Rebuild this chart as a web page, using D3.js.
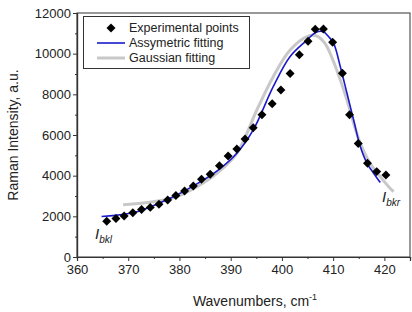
<!DOCTYPE html>
<meta charset="utf-8">
<style>
body { margin: 0; background: #fff; }
text { font-family: "Liberation Sans", Arial, sans-serif; fill: #222; }
</style>
<svg width="412" height="312"></svg>
<script src="https://d3js.org/d3.v7.min.js"></script>
<script>

// experimental points (wavenumber, intensity)
var expX = [365.8, 367.6, 369.2, 370.9, 372.6, 374.3, 376.0, 377.7, 379.3, 381.0, 382.7, 384.3, 386.0, 387.8, 389.5, 391.2, 392.8, 394.4, 396.1, 398.1, 399.8, 401.6, 403.4, 405.1, 406.5, 408.1, 409.9, 411.8, 413.2, 414.9, 416.7, 418.5, 420.3];
var expY = [1760, 1890, 2020, 2180, 2340, 2440, 2590, 2800, 3020, 3250, 3490, 3820, 4070, 4490, 4970, 5310, 5800, 6360, 7000, 7540, 8210, 9020, 9950, 10610, 11200, 11210, 10560, 9040, 7000, 5580, 4610, 4200, 4030];

// asymmetric fit
var asymX = [364.8, 371.7, 378.2, 384.7, 388.0, 391.2, 394.4, 398.3, 401.6, 404.9, 406.5, 408.1, 409.1, 410.1, 411.4, 412.7, 414.0, 415.3, 416.6, 417.9, 419.2];
var asymY = [1990, 2230, 2890, 3790, 4360, 5100, 6250, 8380, 9860, 10670, 11030, 11080, 10840, 10510, 9360, 8050, 6740, 5430, 4610, 4120, 3660];

// gaussian fit
var gaussX = [369.0, 374.9, 379.5, 383.4, 387.3, 391.2, 395.1, 398.3, 401.6, 404.9, 406.8, 408.4, 409.4, 411.4, 412.7, 414.0, 415.3, 417.2, 419.2, 421.1, 421.8];
var gaussY = [2570, 2720, 2970, 3460, 4120, 5100, 7230, 8870, 10180, 10840, 10870, 10510, 10020, 8710, 7720, 6580, 5590, 4610, 3950, 3380, 3210];

var xTicks = [360, 370, 380, 390, 400, 410, 420];
var yTicks = [0, 2000, 4000, 6000, 8000, 10000, 12000];
var legendLabels = ["Experimental points", "Assymetric fitting", "Gaussian fitting"];

var svg = d3.select("svg");
var pLeft = 77, pRight = 410, pTop = 13, pBottom = 257;

var x = d3.scaleLinear().domain([360, 425]).range([pLeft, pRight]);
var y = d3.scaleLinear().domain([0, 12000]).range([pBottom, pTop]);

var axisColor = "#333";

// frame
svg.append("rect")
  .attr("x", pLeft).attr("y", pTop)
  .attr("width", pRight - pLeft).attr("height", pBottom - pTop)
  .attr("fill", "none").attr("stroke", "#555").attr("stroke-width", 1.2);

// minor ticks
var gxm = svg.append("g").attr("transform", "translate(0," + pBottom + ")")
  .call(d3.axisBottom(x).tickValues(d3.range(365, 425, 10)).tickSize(2).tickFormat(""));
var gym = svg.append("g").attr("transform", "translate(" + pLeft + ",0)")
  .call(d3.axisLeft(y).tickValues(d3.range(1000, 12000, 2000)).tickSize(2).tickFormat(""));

// main axes
var gx = svg.append("g").attr("transform", "translate(0," + pBottom + ")")
  .call(d3.axisBottom(x).tickValues(xTicks).tickSize(4).tickPadding(4).tickFormat(d3.format("d")));
var gy = svg.append("g").attr("transform", "translate(" + pLeft + ",0)")
  .call(d3.axisLeft(y).tickValues(yTicks).tickSize(4).tickPadding(2).tickFormat(d3.format("d")));

[gx, gy, gxm, gym].forEach(function (g) {
  g.selectAll("path").attr("stroke", axisColor).attr("stroke-width", 1.2);
  g.selectAll("line").attr("stroke", axisColor);
  g.selectAll("text").attr("font-size", 13).attr("fill", "#222")
    .attr("font-family", "Liberation Sans, Arial, sans-serif");
});

// axis titles
svg.append("text")
  .attr("x", 255).attr("y", 306)
  .attr("text-anchor", "middle").attr("font-size", 14)
  .html('Wavenumbers, cm<tspan dy="-6" font-size="9">-1</tspan>');

svg.append("text")
  .attr("transform", "translate(18," + 135 + ") rotate(-90)")
  .attr("text-anchor", "middle").attr("font-size", 14)
  .text("Raman Intensity, a.u.");

// curves
var line = d3.line().curve(d3.curveCatmullRom.alpha(0.5));

svg.append("path")
  .datum(gaussX.map(function (d, i) { return [x(d), y(gaussY[i])]; }))
  .attr("d", line)
  .attr("fill", "none").attr("stroke", "#c8c8c8").attr("stroke-width", 3);

svg.append("path")
  .datum(asymX.map(function (d, i) { return [x(d), y(asymY[i])]; }))
  .attr("d", line)
  .attr("fill", "none").attr("stroke", "#1a1acc").attr("stroke-width", 1.6);

// diamonds
var diamond = d3.symbol().type(d3.symbolSquare).size(40);
svg.append("g").selectAll("path")
  .data(expX)
  .join("path")
  .attr("d", diamond)
  .attr("transform", function (d, i) { return "translate(" + x(d) + "," + y(expY[i]) + ") rotate(45)"; })
  .attr("fill", "#000");

// annotations
svg.append("text")
  .attr("x", 95).attr("y", 239)
  .attr("font-size", 15).attr("font-style", "italic")
  .html('I<tspan dy="4" font-size="10">bkl</tspan>');
svg.append("text")
  .attr("x", 382).attr("y", 202)
  .attr("font-size", 15).attr("font-style", "italic")
  .html('I<tspan dy="4" font-size="10">bkr</tspan>');

// legend
var lg = svg.append("g");
lg.append("rect")
  .attr("x", 83.5).attr("y", 16.5).attr("width", 166).attr("height", 52)
  .attr("fill", "#fff").attr("stroke", "#333").attr("stroke-width", 1);

lg.append("path")
  .attr("d", diamond)
  .attr("transform", "translate(111,28) rotate(45)")
  .attr("fill", "#000");
lg.append("line")
  .attr("x1", 97).attr("x2", 125).attr("y1", 43).attr("y2", 43)
  .attr("stroke", "#1a1acc").attr("stroke-width", 1.6);
lg.append("line")
  .attr("x1", 97).attr("x2", 125).attr("y1", 58).attr("y2", 58)
  .attr("stroke", "#c8c8c8").attr("stroke-width", 3);

lg.selectAll("text.lab")
  .data(legendLabels)
  .join("text")
  .attr("class", "lab")
  .attr("x", 129)
  .attr("y", function (d, i) { return 32 + i * 15; })
  .attr("font-size", 12.5)
  .text(function (d) { return d; });

</script>
